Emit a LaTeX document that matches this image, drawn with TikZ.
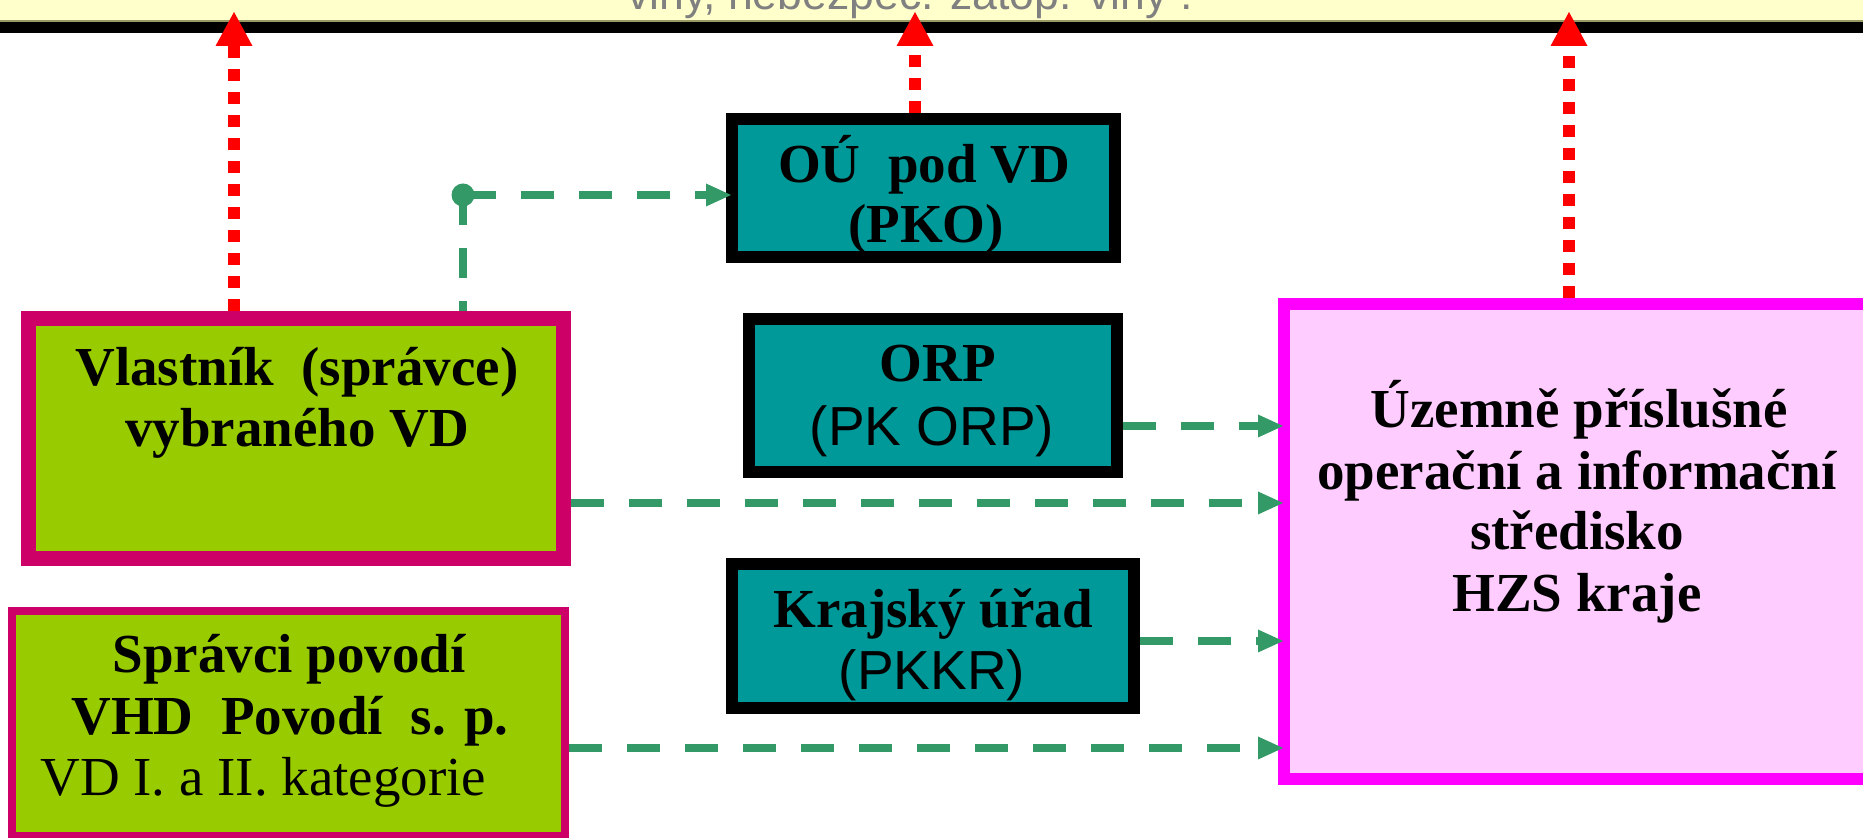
\documentclass[tikz,border=0pt]{standalone}
\usepackage{fontspec}
\setmainfont{Liberation Serif}
\newfontfamily\arialf{Liberation Sans}
\usetikzlibrary{arrows.meta}
\definecolor{strip}{HTML}{FFFFCC}
\definecolor{olivel}{HTML}{999966}
\definecolor{gtext}{HTML}{808080}
\definecolor{limef}{HTML}{99CC00}
\definecolor{wine}{HTML}{CC0066}
\definecolor{tealf}{HTML}{009999}
\definecolor{pinkf}{HTML}{FFCCFF}
\definecolor{magen}{HTML}{FF00FF}
\definecolor{grn}{HTML}{339966}
\begin{document}
\begin{tikzpicture}[x=0.5pt,y=-0.5pt,
 box/.style={rectangle, inner sep=0pt},
 limebox/.style={box, fill=limef, draw=wine},
 tealbox/.style={box, fill=tealf, draw=black, line width=6pt},
 lbl/.style={anchor=base, inner sep=0pt, font=\fontsize{27.5}{33}\selectfont\bfseries},
 lblreg/.style={anchor=base, inner sep=0pt, font=\fontsize{27.5}{33}\selectfont},
 lblsans/.style={anchor=base, inner sep=0pt, font=\fontsize{27.5}{33}\selectfont\arialf},
 redflow/.style={draw=red, line width=6pt, dash pattern=on 6pt off 5.5pt,
   -{Triangle[length=17pt,width=18.5pt,line width=0pt]}},
 grnflow/.style={draw=grn, line width=4pt, dash pattern=on 16.5pt off 12.5pt},
 grnarrow/.style={grnflow, -{Triangle[length=12.5pt,width=11.5pt,line width=0pt]}, shorten >=-2.5pt},
]
\useasboundingbox (0,0) rectangle (1863,838);
\clip (0,0) rectangle (1863,838);

% top strip
\fill[strip] (0,0) rectangle (1863,21);
\fill[black] (0,21.5) rectangle (1863,33);
\draw[olivel, line width=1pt] (0,21) -- (1863,21);
\node[anchor=base, inner sep=0pt, text=gtext, font=\arialf\fontsize{22.3}{26}\selectfont] (toptext) at (910,10) {viny, nebezpeč. zátop. viny :};

% boxes
\node[limebox, line width=7.5pt, minimum width=267.5pt, minimum height=120pt] (box1) at (296,438.5) {};
\node[limebox, line width=4pt, minimum width=276.5pt, minimum height=112.5pt] (box2) at (288.5,723.5) {};
\node[tealbox, minimum width=191.5pt, minimum height=69pt] (ou) at (923.5,188) {};
\node[tealbox, minimum width=184pt, minimum height=76.5pt] (orp) at (933,395.5) {};
\node[tealbox, minimum width=201pt, minimum height=72pt] (kraj) at (933,636) {};
\node[box, fill=pinkf, draw=magen, line width=6pt, minimum width=293pt, minimum height=237.5pt] (hzs) at (1577,541.5) {};

% texts
\node[lbl] (t1a) at (297,386) {Vlastník \ (správce)};
\node[lbl] (t1b) at (297,447) {vybraného VD};
\node[lbl] (t2a) at (289,673) {Správci povodí};
\node[lbl] (t2b) at (290,735) {VHD \ Povodí \ s. p.};
\node[lblreg, anchor=base west] (t2c) at (40,795) {VD I. a II. kategorie};
\node[lbl] (t3a) at (924,183) {OÚ \ pod VD};
\node[lbl] (t3b) at (926,243) {(PKO)};
\node[lbl] (t4a) at (938,382) {ORP};
\node[lblsans] (t4b) at (932,446) {(PK ORP)};
\node[lbl] (t5a) at (933,628) {Krajský úřad};
\node[lblsans] (t5b) at (932,690) {(PKKR)};
\node[lbl] (t6a) at (1579,428) {Územně příslušné};
\node[lbl] (t6b) at (1577,490) {operační a informační};
\node[lbl] (t6c) at (1577,550) {středisko};
\node[lbl] (t6d) at (1577,612) {HZS kraje};

% red arrows
\coordinate (tip1) at (234,12);
\coordinate (tip2) at (915,12);
\coordinate (tip3) at (1569,12);
\draw[redflow] (box1.north -| tip1) -- (tip1);
\draw[redflow] (ou.north -| tip2) -- (tip2);
\draw[redflow] (hzs.north -| tip3) -- (tip3);

% green connectors
\node[circle, fill=grn, inner sep=0pt, minimum size=11.5pt] (jdot) at (463,195) {};
\draw[grnflow, dash pattern=on 15pt off 11.5pt] (jdot.center) -- (box1.north -| jdot);
\draw[grnarrow] (jdot.center) -- (ou.west |- jdot);
\coordinate (ya) at (0,426);
\coordinate (yb) at (0,503);
\coordinate (yc) at (0,641);
\coordinate (yd) at (0,748);
\draw[grnarrow] (orp.east |- ya) -- (hzs.west |- ya);
\draw[grnarrow] (box1.east |- yb) -- (hzs.west |- yb);
\draw[grnarrow] (kraj.east |- yc) -- (hzs.west |- yc);
\draw[grnarrow] (box2.east |- yd) -- (hzs.west |- yd);
\end{tikzpicture}
\end{document}
